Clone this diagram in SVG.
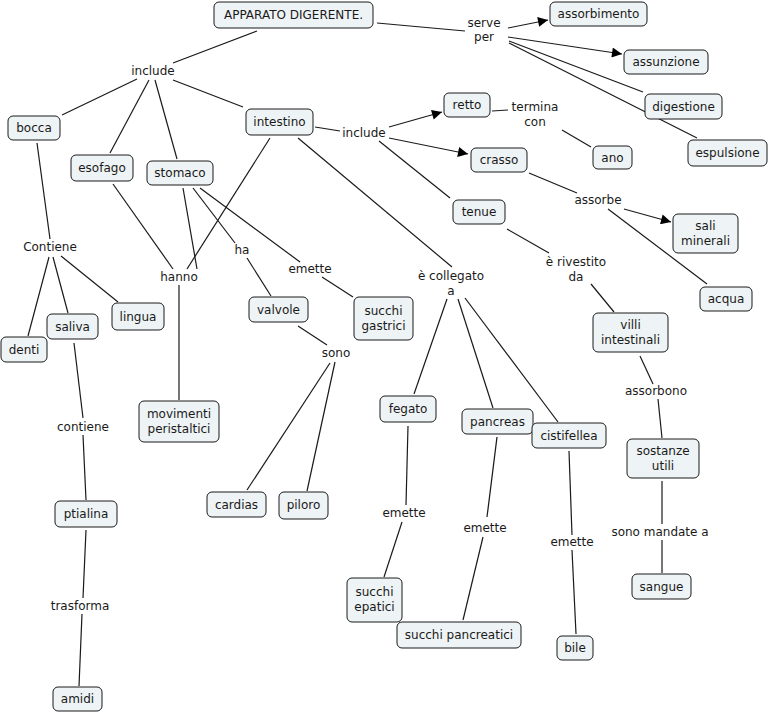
<svg xmlns="http://www.w3.org/2000/svg" width="770" height="713" viewBox="0 0 770 713">
<defs>
<marker id="ar" viewBox="0 0 10 10" refX="10" refY="5" markerWidth="12" markerHeight="10" markerUnits="userSpaceOnUse" orient="auto">
<path d="M0,0 L10,5 L0,10 z" fill="#000"/>
</marker>
</defs>
<style>
text{font-family:"DejaVu Sans",Verdana,sans-serif;font-size:12px;fill:#1a1a1a;text-anchor:middle}
.n rect{fill:#eef3f5;stroke:#1a1a1a;stroke-width:1}
#connectors line{stroke:#1a1a1a;stroke-width:1.2;fill:none}
#connectors line.a{marker-end:url(#ar)}
</style>
<rect width="770" height="713" fill="#fff"/>
<g id="connectors">
<line x1="257" y1="31" x2="173" y2="63"/>
<line x1="137" y1="79" x2="62" y2="115"/>
<line x1="149" y1="80" x2="110" y2="153"/>
<line x1="155" y1="80" x2="177" y2="159"/>
<line x1="173" y1="80" x2="243" y2="107"/>
<line x1="315" y1="127" x2="340" y2="131"/>
<line x1="37" y1="143" x2="50" y2="239"/>
<line x1="113" y1="184" x2="173" y2="269"/>
<line x1="183" y1="188" x2="197" y2="269"/>
<line x1="270" y1="138" x2="187" y2="269"/>
<line x1="193" y1="188" x2="235" y2="243"/>
<line x1="200" y1="188" x2="300" y2="262"/>
<line x1="298" y1="138" x2="452" y2="267"/>
<line x1="377" y1="23" x2="465" y2="31"/>
<line class="a" x1="508" y1="28" x2="548" y2="20"/>
<line class="a" x1="508" y1="37" x2="622" y2="54"/>
<line x1="509" y1="41" x2="643" y2="92"/>
<line x1="509" y1="43" x2="697" y2="138"/>
<line class="a" x1="389" y1="127" x2="442" y2="112"/>
<line class="a" x1="389" y1="138" x2="468" y2="154"/>
<line x1="379" y1="141" x2="450" y2="198"/>
<line x1="492" y1="111" x2="508" y2="110"/>
<line x1="562" y1="130" x2="591" y2="147"/>
<line x1="529" y1="173" x2="577" y2="193"/>
<line class="a" x1="624" y1="209" x2="671" y2="222"/>
<line x1="608" y1="209" x2="707" y2="284"/>
<line x1="507" y1="229" x2="549" y2="253"/>
<line x1="591" y1="284" x2="614" y2="312"/>
<line x1="640" y1="356" x2="653" y2="384"/>
<line x1="658" y1="399" x2="662" y2="438"/>
<line x1="662" y1="481" x2="662" y2="524"/>
<line x1="662" y1="540" x2="662" y2="573"/>
<line x1="447" y1="299" x2="414" y2="394"/>
<line x1="458" y1="299" x2="493" y2="408"/>
<line x1="465" y1="298" x2="558" y2="422"/>
<line x1="408" y1="426" x2="406" y2="505"/>
<line x1="402" y1="522" x2="384" y2="577"/>
<line x1="497" y1="437" x2="487" y2="517"/>
<line x1="483" y1="537" x2="463" y2="620"/>
<line x1="569" y1="451" x2="572" y2="535"/>
<line x1="572" y1="550" x2="576" y2="634"/>
<line x1="49" y1="257" x2="28" y2="336"/>
<line x1="53" y1="257" x2="68" y2="313"/>
<line x1="61" y1="256" x2="118" y2="302"/>
<line x1="179" y1="285" x2="179" y2="400"/>
<line x1="247" y1="258" x2="271" y2="296"/>
<line x1="322" y1="277" x2="353" y2="297"/>
<line x1="298" y1="326" x2="327" y2="345"/>
<line x1="330" y1="363" x2="247" y2="490"/>
<line x1="335" y1="362" x2="307" y2="491"/>
<line x1="74" y1="343" x2="83" y2="418"/>
<line x1="83" y1="435" x2="86" y2="500"/>
<line x1="86" y1="530" x2="83" y2="598"/>
<line x1="82" y1="614" x2="79" y2="686"/>
</g>
<g id="labels">
<text x="153" y="75">include</text>
<text x="364" y="137">include</text>
<text x="484" y="27">serve</text>
<text x="484" y="41">per</text>
<text x="535" y="111">termina</text>
<text x="535" y="126">con</text>
<text x="598" y="204">assorbe</text>
<text x="50" y="251">Contiene</text>
<text x="179" y="281">hanno</text>
<text x="242" y="254">ha</text>
<text x="310" y="273">emette</text>
<text x="336" y="357">sono</text>
<text x="83" y="431">contiene</text>
<text x="80" y="610">trasforma</text>
<text x="451" y="280">è collegato</text>
<text x="451" y="295">a</text>
<text x="576" y="266">è rivestito</text>
<text x="576" y="281">da</text>
<text x="656" y="395">assorbono</text>
<text x="404" y="517">emette</text>
<text x="485" y="532">emette</text>
<text x="572" y="546">emette</text>
<text x="660" y="536">sono mandate a</text>
</g>
<g id="n-apparato" class="n"><rect x="214" y="2" width="159" height="26" rx="5"/><text x="293.5" y="19">APPARATO DIGERENTE.</text></g>
<g id="n-assorbimento" class="n"><rect x="550" y="2" width="97" height="24" rx="5"/><text x="598.5" y="18">assorbimento</text></g>
<g id="n-assunzione" class="n"><rect x="624" y="50" width="84" height="24" rx="5"/><text x="666" y="66">assunzione</text></g>
<g id="n-digestione" class="n"><rect x="645" y="94" width="77" height="25" rx="5"/><text x="683.5" y="110.5">digestione</text></g>
<g id="n-espulsione" class="n"><rect x="688" y="140" width="79" height="26" rx="5"/><text x="727.5" y="157">espulsione</text></g>
<g id="n-bocca" class="n"><rect x="8" y="116" width="52" height="24" rx="5"/><text x="34" y="132">bocca</text></g>
<g id="n-esofago" class="n"><rect x="71" y="155" width="62" height="26" rx="5"/><text x="102" y="172">esofago</text></g>
<g id="n-stomaco" class="n"><rect x="147" y="161" width="66" height="24" rx="5"/><text x="180" y="177">stomaco</text></g>
<g id="n-intestino" class="n"><rect x="246" y="109" width="67" height="26" rx="5"/><text x="279.5" y="126">intestino</text></g>
<g id="n-retto" class="n"><rect x="444" y="93" width="46" height="24" rx="5"/><text x="467" y="109">retto</text></g>
<g id="n-ano" class="n"><rect x="593" y="146" width="39" height="23" rx="5"/><text x="612.5" y="161.5">ano</text></g>
<g id="n-crasso" class="n"><rect x="471" y="148" width="56" height="24" rx="5"/><text x="499" y="164">crasso</text></g>
<g id="n-tenue" class="n"><rect x="453" y="200" width="52" height="24" rx="5"/><text x="479" y="216">tenue</text></g>
<g id="n-sali" class="n"><rect x="673" y="214" width="65" height="39" rx="5"/><text x="705.5" y="230">sali</text><text x="705.5" y="245">minerali</text></g>
<g id="n-acqua" class="n"><rect x="700" y="287" width="52" height="24" rx="5"/><text x="726" y="303">acqua</text></g>
<g id="n-lingua" class="n"><rect x="112" y="303" width="52" height="27" rx="5"/><text x="138" y="320.5">lingua</text></g>
<g id="n-saliva" class="n"><rect x="47" y="314" width="51" height="25" rx="5"/><text x="72.5" y="330.5">saliva</text></g>
<g id="n-denti" class="n"><rect x="1" y="337" width="46" height="25" rx="5"/><text x="24" y="353.5">denti</text></g>
<g id="n-valvole" class="n"><rect x="249" y="297" width="59" height="25" rx="5"/><text x="278.5" y="313.5">valvole</text></g>
<g id="n-gastrici" class="n"><rect x="354" y="297" width="59" height="43" rx="5"/><text x="383.5" y="315">succhi</text><text x="383.5" y="330">gastrici</text></g>
<g id="n-movimenti" class="n"><rect x="139" y="401" width="80" height="41" rx="5"/><text x="179" y="417.5">movimenti</text><text x="179" y="432.5">peristaltici</text></g>
<g id="n-villi" class="n"><rect x="593" y="313" width="75" height="39" rx="5"/><text x="630.5" y="329">villi</text><text x="630.5" y="344">intestinali</text></g>
<g id="n-fegato" class="n"><rect x="380" y="396" width="56" height="26" rx="5"/><text x="408" y="413">fegato</text></g>
<g id="n-pancreas" class="n"><rect x="462" y="409" width="71" height="25" rx="5"/><text x="497.5" y="425.5">pancreas</text></g>
<g id="n-cistifellea" class="n"><rect x="532" y="423" width="74" height="25" rx="5"/><text x="569" y="439.5">cistifellea</text></g>
<g id="n-sostanze" class="n"><rect x="627" y="439" width="72" height="39" rx="5"/><text x="663" y="455">sostanze</text><text x="663" y="470">utili</text></g>
<g id="n-ptialina" class="n"><rect x="55" y="501" width="62" height="26" rx="5"/><text x="86" y="518">ptialina</text></g>
<g id="n-cardias" class="n"><rect x="207" y="492" width="59" height="25" rx="5"/><text x="236.5" y="508.5">cardias</text></g>
<g id="n-piloro" class="n"><rect x="279" y="492" width="49" height="27" rx="5"/><text x="303.5" y="509">piloro</text></g>
<g id="n-amidi" class="n"><rect x="53" y="687" width="49" height="24" rx="5"/><text x="77.5" y="703">amidi</text></g>
<g id="n-epatici" class="n"><rect x="347" y="578" width="55" height="44" rx="5"/><text x="374.5" y="596">succhi</text><text x="374.5" y="611">epatici</text></g>
<g id="n-pancreatici" class="n"><rect x="397" y="622" width="124" height="26" rx="5"/><text x="459" y="639">succhi pancreatici</text></g>
<g id="n-bile" class="n"><rect x="557" y="636" width="36" height="24" rx="5"/><text x="575" y="652">bile</text></g>
<g id="n-sangue" class="n"><rect x="632" y="574" width="59" height="25" rx="5"/><text x="661.5" y="590.5">sangue</text></g>
</svg>
